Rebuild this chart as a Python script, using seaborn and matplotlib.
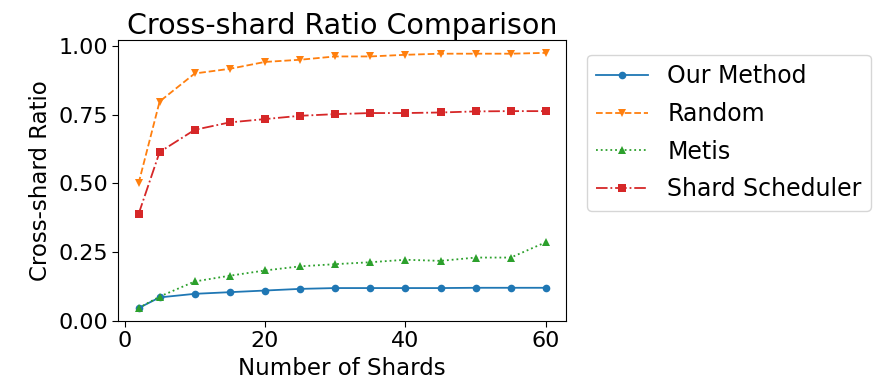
import matplotlib
matplotlib.use("Agg")
import matplotlib.pyplot as plt
import seaborn as sns
import pandas as pd

# ===============================
# DATA
# ===============================
num_shards = [2, 5, 10, 15, 20, 25, 30, 35, 40, 45, 50, 55, 60]

our_method = [0.046, 0.085, 0.098, 0.104, 0.110, 0.116, 0.119, 0.119, 0.119, 0.119, 0.120, 0.120, 0.120]
random_ratio = [0.50, 0.798, 0.90, 0.917, 0.942, 0.950, 0.962, 0.962, 0.968, 0.972, 0.972, 0.972, 0.975]
metis = [0.046, 0.088, 0.143, 0.164, 0.183, 0.198, 0.206, 0.213, 0.222, 0.218, 0.230, 0.230, 0.286]
shard_scheduler = [0.388, 0.614, 0.695, 0.722, 0.734, 0.746, 0.752, 0.756, 0.756, 0.758, 0.762, 0.763, 0.763]

series = {
    "Our Method": our_method,
    "Random": random_ratio,
    "Metis": metis,
    "Shard Scheduler": shard_scheduler,
}
styles = {
    "Our Method": ("#1f77b4", "o", "-"),
    "Random": ("#ff7f0e", "v", "--"),
    "Metis": ("#2ca02c", "^", ":"),
    "Shard Scheduler": ("#d62728", "s", "-."),
}

# ===============================
# PLOT
# ===============================
fig = plt.figure(figsize=(8.82, 3.82), dpi=100)
ax = fig.add_axes([0.134, 0.160, 0.508, 0.735])

for name, vals in series.items():
    color, marker, ls = styles[name]
    df = pd.DataFrame({"shards": num_shards, "ratio": vals})
    sns.lineplot(
        data=df, x="shards", y="ratio", ax=ax,
        color=color, marker=marker, linestyle=ls,
        markersize=5.5, markeredgewidth=0, linewidth=1.3,
        label=name,
    )

ax.set_yticks([0.0, 0.25, 0.5, 0.75, 1.0])
ax.set_xticks([0, 20, 40, 60])
ax.tick_params(labelsize=16, length=4)
ax.set_xlabel("Number of Shards", fontsize=16.5, labelpad=4)
ax.set_ylabel("Cross-shard Ratio", fontsize=16.5, labelpad=4)
ax.set_title("Cross-shard Ratio Comparison", fontsize=20.5, pad=3)
ax.legend(loc="upper left", bbox_to_anchor=(1.02, 0.99), fontsize=17,
          handlelength=2.2, borderpad=0.4, labelspacing=0.58)

fig.savefig("out.png", dpi=100)
plt.close(fig)
